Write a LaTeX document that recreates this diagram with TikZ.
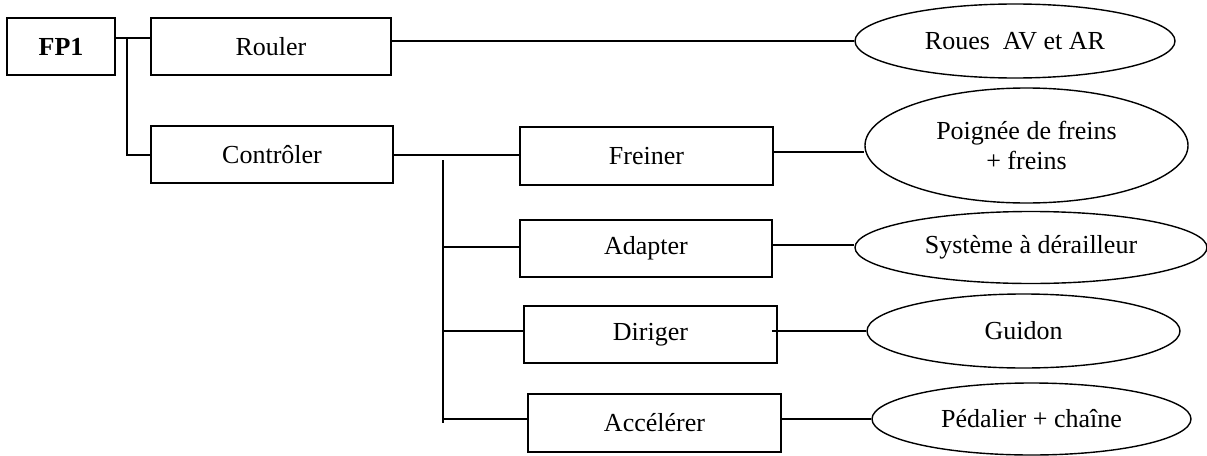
\documentclass[tikz,border=0pt]{standalone}
\usepackage{fontspec}
\setmainfont{Liberation Serif}
\usetikzlibrary{shapes.geometric}
\begin{document}
\begin{tikzpicture}[x=1pt,y=-1pt,
  every node/.style={font=\fontsize{26}{30}\selectfont, text=black},
  fbox/.style={draw, line width=1.6pt, rectangle, inner sep=0pt, align=center},
  sol/.style={draw, line width=1.4pt, ellipse, inner sep=0pt, align=center},
  conn/.style={line width=1.3pt}]
\useasboundingbox (0,0) rectangle (1207,455);
% boxes
\node[fbox, minimum width=108, minimum height=57] (fp1) at (61,46.5) {\textbf{FP1}};
\node[fbox, minimum width=240, minimum height=57] (rouler) at (271,46.5) {Rouler};
\node[fbox, minimum width=242, minimum height=57] (controler) at (272,154.5) {Contrôler};
\node[fbox, minimum width=253, minimum height=58] (freiner) at (646.5,156) {Freiner};
\node[fbox, minimum width=252, minimum height=57] (adapter) at (646,248.5) {Adapter};
\node[fbox, minimum width=253, minimum height=57] (diriger) at (650.5,334.5) {Diriger};
\node[fbox, minimum width=253, minimum height=58] (accelerer) at (654.5,423) {Accélérer};
% ellipses
\node[sol, minimum width=320, minimum height=74] (roues) at (1015,41) {Roues~~AV et AR};
\node[sol, minimum width=323, minimum height=115] (poignee) at (1026.5,145.5) {Poignée de freins\\+ freins};
\node[sol, minimum width=352, minimum height=72] (systeme) at (1031,247.5) {Système à dérailleur};
\node[sol, minimum width=313, minimum height=74] (guidon) at (1023.5,331) {Guidon};
\node[sol, minimum width=319, minimum height=72] (pedalier) at (1031.5,419) {Pédalier + chaîne};
% junction coordinates
\coordinate (j1t) at (127,38);
\coordinate (j1b) at (127,155);
\coordinate (j2t) at (443,160);
\coordinate (j2b) at (443,423);
\coordinate (bA) at (443,247);
\coordinate (bD) at (443,331);
\coordinate (bC) at (443,419);
\coordinate (lC) at (0,155);
\coordinate (lF) at (0,152);
\coordinate (lA) at (0,245);
% left connectors
\draw[conn] (fp1.east |- j1t) -- (rouler.west |- j1t);
\draw[conn] (j1t) -- (j1b) -- (controler.west |- j1b);
\draw[conn] (controler.east |- lC) -- (freiner.west |- lC);
\draw[conn] (j2t) -- (j2b);
\draw[conn] (bA) -- (adapter.west |- bA);
\draw[conn] (bD) -- (diriger.west |- bD);
\draw[conn] (bC) -- (accelerer.west |- bC);
% right connectors
\draw[conn] (rouler.east |- roues.west) -- (roues.west);
\draw[conn] (freiner.east |- lF) -- (poignee.west |- lF);
\draw[conn] (adapter.east |- lA) -- (systeme.west |- lA);
\draw[conn] ([xshift=-6pt]diriger.east |- guidon.west) -- (guidon.west);
\draw[conn] (accelerer.east |- pedalier.west) -- (pedalier.west);
\end{tikzpicture}
\end{document}
